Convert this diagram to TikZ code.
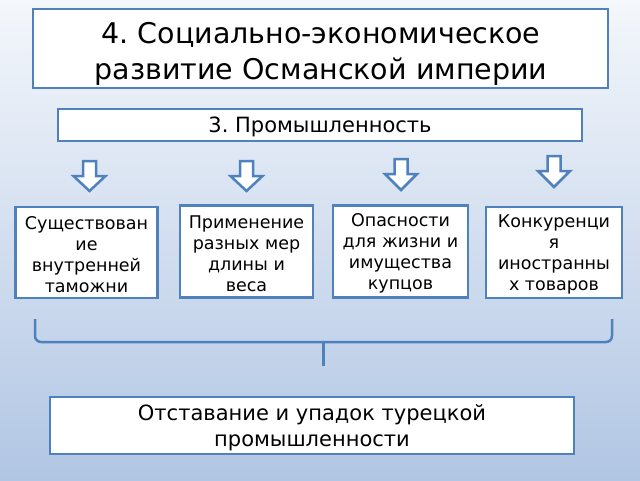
\documentclass[tikz,border=0pt]{standalone}
\usepackage{fontspec}
\setmainfont{DejaVu Sans}
\frenchspacing
\definecolor{bgtop}{HTML}{F4F7FB}
\definecolor{bgbot}{HTML}{B1C6E4}
\definecolor{edge}{HTML}{4F81BD}
\begin{document}
\begin{tikzpicture}[x=1pt,y=-1pt,
  box/.style={draw=edge,line width=2.5pt,fill=white,inner sep=0pt},
  arr/.style={draw=edge,line width=2.5pt,fill=white,line join=miter},
  brace/.style={draw=edge,line width=2.5pt,rounded corners=6pt}]
\useasboundingbox (0,0) rectangle (640,480);
\shade[top color=bgtop,bottom color=bgbot] (0,0) rectangle (640,480);
% title
\node[box,minimum width=575pt,minimum height=79pt] (title) at (320.5,48.5) {};
\node[font=\fontsize{28.5}{36}\selectfont,align=center] at (321,54) {4. Социально-экономическое\\развитие Османской империи};
% subtitle
\node[box,minimum width=524pt,minimum height=32pt] (sub) at (320,125) {};
\node[font=\fontsize{21}{24}\selectfont] at (320,127) {3. Промышленность};
% boxes
\tikzset{small/.style={box,minimum width=134pt,minimum height=91pt}}
\tikzset{stxt/.style={font=\fontsize{17.5}{21}\selectfont,align=center}}
\node[small,minimum width=142pt] (b1) at (86.5,252.5) {};
\node[stxt] at (86.5,254.5) {Существован\\ие\\внутренней\\таможни};
\node[small,minimum width=133pt,minimum height=92pt] (b2) at (246.5,251.5) {};
\node[stxt] at (246.5,253.5) {Применение\\разных мер\\длины и\\веса};
\node[small,minimum width=135pt,minimum height=92pt] (b3) at (400.5,251.5) {};
\node[stxt] at (400.5,253.5) {Опасности\\для жизни и\\имущества\\купцов};
\node[small,minimum width=136pt] (b4) at (554,252.5) {};
\node[stxt] at (554,254.5) {Конкуренци\\я\\иностранны\\х товаров};
% arrows
\foreach \n/\cx/\ty/\sy/\by in {a1/89.5/161/176/191, a2/246.5/161/176/191, a3/401/159/174/190, a4/554/156/171/187}{
  \draw[arr] (\cx-6.5,\ty) -- (\cx+6.5,\ty) -- (\cx+6.5,\sy) -- (\cx+16,\sy) -- (\cx,\by) -- (\cx-16,\sy) -- (\cx-6.5,\sy) -- cycle;
  \coordinate (\n) at (\cx,\by);
}
% brace
\coordinate (bl) at (35,319);
\coordinate (br) at (612,319);
\coordinate (bm) at (323.5,342);
\coordinate (bt) at (323.5,366);
\draw[brace] (bl) -- (35,342) -- (bm) -- (612,342) -- (br);
\draw[brace,rounded corners=0pt] (bm) -- (bt);
% bottom
\node[box,minimum width=524pt,minimum height=57pt] (res) at (312,425.5) {};
\node[font=\fontsize{21}{26}\selectfont,align=center] at (312,428) {Отставание и упадок турецкой\\промышленности};
\end{tikzpicture}
\end{document}
